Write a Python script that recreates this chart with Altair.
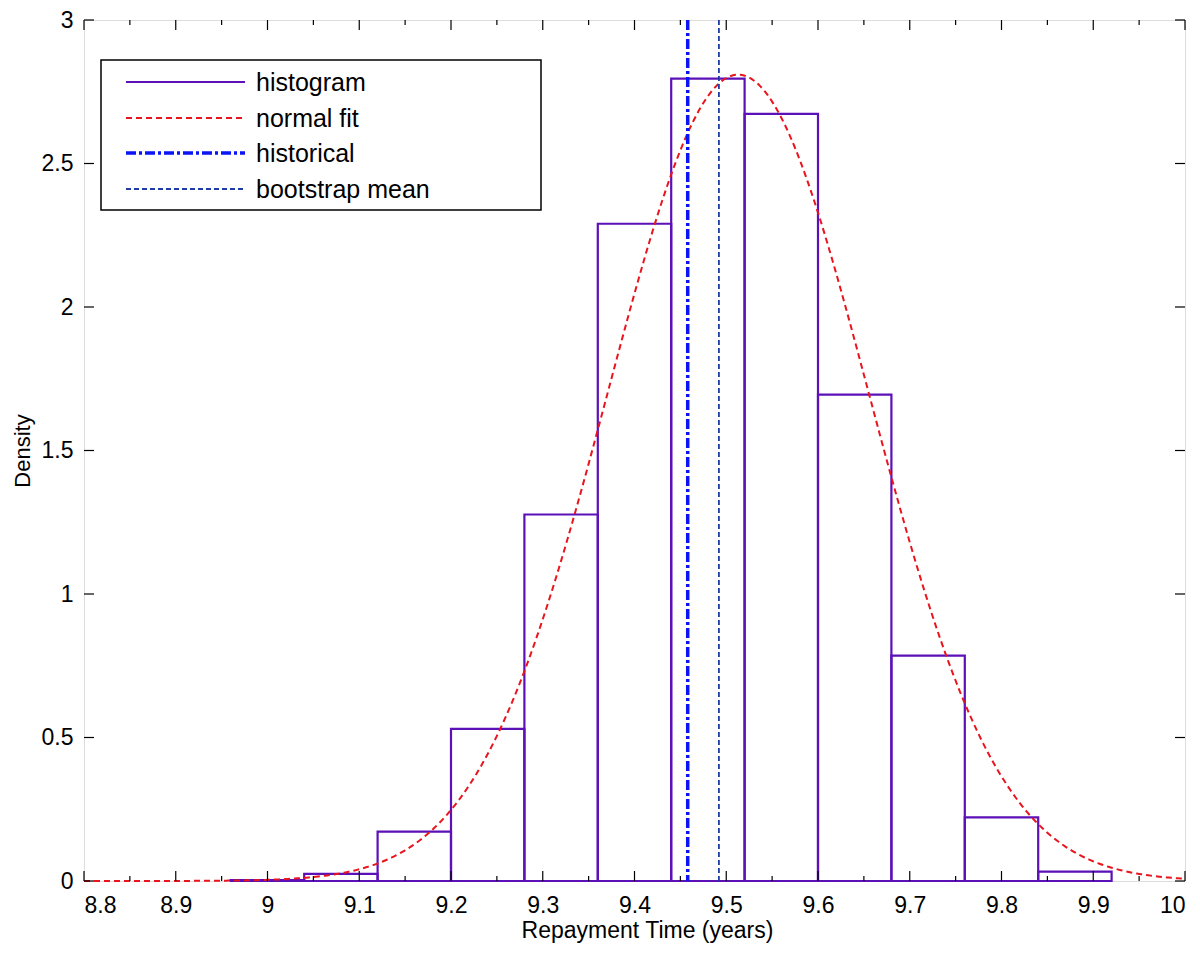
import altair as alt
import numpy as np
import pandas as pd

# ---------------- data ----------------
bin_start = [8.96, 9.04, 9.12, 9.20, 9.28, 9.36, 9.44, 9.52, 9.60, 9.68, 9.76, 9.84]
bin_end = [9.04, 9.12, 9.20, 9.28, 9.36, 9.44, 9.52, 9.60, 9.68, 9.76, 9.84, 9.92]
density = [0.003, 0.025, 0.172, 0.53, 1.277, 2.29, 2.796, 2.673, 1.695, 0.785, 0.222, 0.033]

fit_mean = 9.513
fit_sd = 0.142

historical = 9.458
bootstrap_mean = 9.492

x_major = [8.8, 8.9, 9.0, 9.1, 9.2, 9.3, 9.4, 9.5, 9.6, 9.7, 9.8, 9.9, 10.0]
x_minor = [8.85, 8.95, 9.05, 9.15, 9.25, 9.35, 9.45, 9.55, 9.65, 9.75, 9.85, 9.95]
y_major = [0.0, 0.5, 1.0, 1.5, 2.0, 2.5, 3.0]

legend_labels = ["histogram", "normal fit", "historical", "bootstrap mean"]

# ---------------- styles ----------------
TOP = 12
W, H = 1101, 873 - TOP
FONT = "Liberation Sans"
C_HIST = "#5c10b8"
C_FIT = "#e8141e"
C_HIST_LINE = "#0a14f5"
C_BOOT = "#1e3ca5"

hist_df = pd.DataFrame({"start": bin_start, "end": bin_end, "density": density})
xs = np.linspace(8.8, 10.0, 481)
fit_df = pd.DataFrame({
    "x": xs,
    "pdf": np.exp(-0.5 * ((xs - fit_mean) / fit_sd) ** 2) / (fit_sd * np.sqrt(2 * np.pi)),
})

xscale = alt.Scale(domain=[8.8, 10.0], nice=False, zero=False)
yscale = alt.Scale(domain=[0, 3], nice=False)

xaxis = alt.Axis(
    values=x_major, format=".1~f", ticks=False, tickSize=0, domain=False, grid=False,
    labelFont=FONT, labelFontSize=23, labelColor="black", labelPadding=13,
    title="Repayment Time (years)", titleFont=FONT, titleFontSize=23,
    titleFontWeight="normal", titleColor="black",
    titleX=563, titleY=56, titleBaseline="alphabetic", titleAlign="center",
)
yaxis = alt.Axis(
    values=y_major, format=".1~f", ticks=False, tickSize=0, domain=False, grid=False,
    labelFont=FONT, labelFontSize=23, labelColor="black", labelPadding=11,
    title="Density", titleFont=FONT, titleFontSize=22, titleFontWeight="normal",
    titleColor="black", titleX=-55, titleY=H / 2, titleAngle=270,
    titleBaseline="alphabetic", titleAlign="center",
)

hist = alt.Chart(hist_df).mark_rect(
    fill="transparent", stroke=C_HIST, strokeWidth=2.2
).encode(
    x=alt.X("start:Q", scale=xscale, axis=xaxis),
    x2="end:Q",
    y=alt.Y("density:Q", scale=yscale, axis=yaxis),
    y2=alt.datum(0),
)

fit = alt.Chart(fit_df).mark_line(
    color=C_FIT, strokeWidth=2, strokeDash=[6, 4]
).encode(x=alt.X("x:Q", scale=xscale), y=alt.Y("pdf:Q", scale=yscale))

hist_rule = alt.Chart(pd.DataFrame({"x": [historical]})).mark_rule(
    color=C_HIST_LINE, strokeWidth=3.5, strokeDash=[10, 3, 3, 3]
).encode(x=alt.X("x:Q", scale=xscale))

boot_rule = alt.Chart(pd.DataFrame({"x": [bootstrap_mean]})).mark_rule(
    color=C_BOOT, strokeWidth=1.8, strokeDash=[5, 3]
).encode(x=alt.X("x:Q", scale=xscale))

# inward ticks on all four sides
def xticks(vals, y0, y1):
    return alt.Chart(pd.DataFrame({"v": vals})).mark_rule(color="black", strokeWidth=1.2).encode(
        x=alt.X("v:Q", scale=xscale), y=alt.value(y0), y2=alt.value(y1))

def yticks(vals, x0, x1):
    return alt.Chart(pd.DataFrame({"v": vals})).mark_rule(color="black", strokeWidth=1.2).encode(
        y=alt.Y("v:Q", scale=yscale), x=alt.value(x0), x2=alt.value(x1))

tick_layers = [
    xticks(x_major, H, H - 10), xticks(x_major, 0, 10),
    xticks(x_minor, H, H - 5), xticks(x_minor, 0, 5),
    yticks(y_major, 0, 10), yticks(y_major, W, W - 10),
]

# legend (page coords minus plot origin)
dy = 14 - (8 + TOP)
one = alt.Data(values=[{"a": 1}])
legend_layers = [
    alt.Chart(one).mark_rect(fill="white", stroke="black", strokeWidth=1.5).encode(
        x=alt.value(17), x2=alt.value(457), y=alt.value(46 + dy), y2=alt.value(196 + dy))
]
legend_styles = [
    dict(color=C_HIST, strokeWidth=2.2),
    dict(color=C_FIT, strokeWidth=2, strokeDash=[6, 4]),
    dict(color=C_HIST_LINE, strokeWidth=3.5, strokeDash=[10, 3, 3, 3]),
    dict(color=C_BOOT, strokeWidth=1.8, strokeDash=[5, 3]),
]
legend_rows = [68, 104, 139, 175]
for lab, sty, ry in zip(legend_labels, legend_styles, legend_rows):
    legend_layers.append(
        alt.Chart(one).mark_rule(**sty).encode(
            x=alt.value(42), x2=alt.value(161), y=alt.value(ry + dy))
    )
    legend_layers.append(
        alt.Chart(one).mark_text(
            text=lab, font=FONT, fontSize=25, align="left", baseline="middle", color="black"
        ).encode(x=alt.value(172), y=alt.value(ry + dy + 1))
    )

chart = alt.layer(
    hist, fit, hist_rule, boot_rule, *tick_layers, *legend_layers
).properties(
    width=W, height=H,
    autosize=alt.AutoSizeParams(type="none"),
    padding={"left": 76, "top": TOP, "right": 7, "bottom": 70},
).configure_view(
    stroke="black", strokeWidth=1.5
).configure(background="white")

chart.save("out.html", embed_options={"renderer": "svg", "actions": False})
